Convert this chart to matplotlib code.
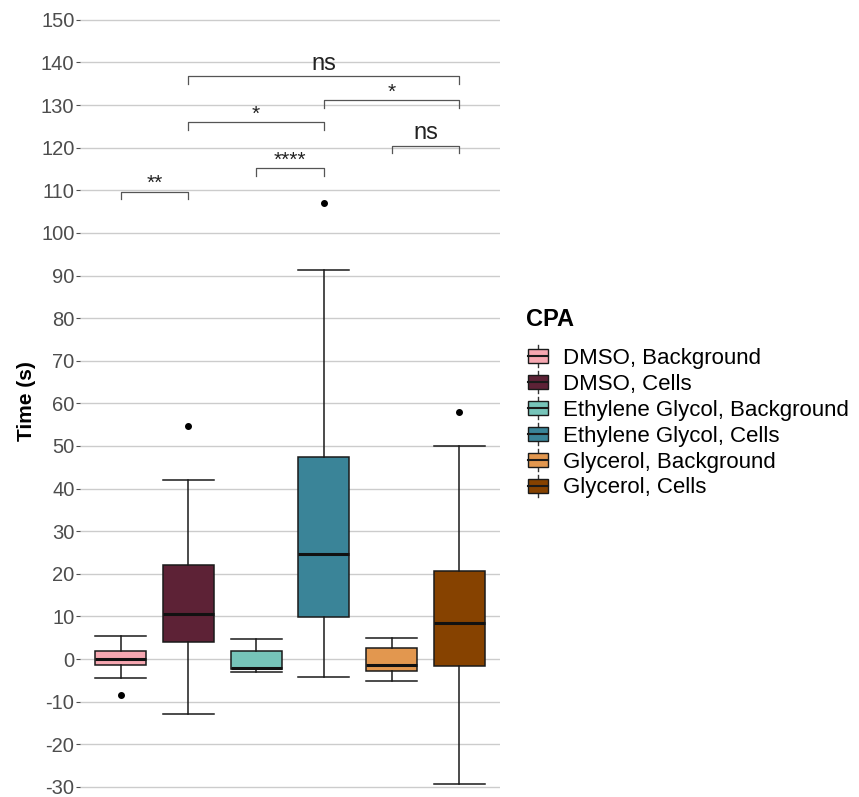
import matplotlib.pyplot as plt
from matplotlib.legend_handler import HandlerBase
from matplotlib.patches import Patch, Rectangle
from matplotlib.lines import Line2D

plt.rcParams["font.family"] = ["Liberation Sans", "DejaVu Sans"]

GROUPS = [
    "DMSO, Background",
    "DMSO, Cells",
    "Ethylene Glycol, Background",
    "Ethylene Glycol, Cells",
    "Glycerol, Background",
    "Glycerol, Cells",
]
COLORS = ["#F6A7B1", "#5D2236", "#76C4B9", "#3A8498", "#E2974F", "#864200"]

WHIS_LO = [-4.5, -12.8, -3.1, -4.1, -5.2, -29.3]
Q1 = [-1.4, 4.0, -2.3, 9.9, -2.9, -1.6]
MEDIAN = [0.0, 10.6, -2.0, 24.6, -1.4, 8.5]
Q3 = [1.9, 22.1, 1.9, 47.4, 2.5, 20.7]
WHIS_HI = [5.4, 42.1, 4.6, 91.4, 5.0, 50.0]
OUTLIERS = [[-8.4], [54.6], [], [107.0], [], [58.0]]

# significance brackets: (group a, group b, height, label)
BRACKETS = [
    (1, 2, 109.7, "**"),
    (3, 4, 115.2, "****"),
    (5, 6, 120.5, "ns"),
    (2, 4, 126.0, "*"),
    (4, 6, 131.2, "*"),
    (2, 6, 136.7, "ns"),
]

YTICKS = list(range(-30, 151, 10))


class BoxKeyHandler(HandlerBase):
    # sizes in points (legend boxes are laid out in points)
    def create_artists(self, legend, orig_handle, xdescent, ydescent,
                       width, height, fontsize, trans):
        cx = xdescent + width / 2
        bw = 14.4
        bh = 10
        x0 = cx - bw / 2
        cy = -ydescent + height / 2
        y0 = cy - bh / 2
        whisk = Line2D([cx, cx], [cy - 8, cy + 8],
                       color="#333333", lw=1.0, transform=trans)
        box = Rectangle((x0, y0), bw, bh, facecolor=orig_handle.get_facecolor(),
                        edgecolor="#1a1a1a", lw=1.0, transform=trans)
        med = Line2D([x0, x0 + bw], [cy, cy],
                     color="#1a1a1a", lw=1.5, transform=trans)
        return [whisk, box, med]


def main() -> None:
    fig = plt.figure(figsize=(8.59, 7.97), dpi=100)
    ax = fig.add_axes([80 / 859, 1 - 795.4 / 797, 420 / 859, 784.1 / 797])

    stats = []
    for i in range(len(GROUPS)):
        stats.append({
            "whislo": WHIS_LO[i], "q1": Q1[i], "med": MEDIAN[i],
            "q3": Q3[i], "whishi": WHIS_HI[i], "fliers": OUTLIERS[i],
        })

    positions = list(range(1, len(GROUPS) + 1))
    bp = ax.bxp(
        stats, positions=positions, widths=0.75, patch_artist=True,
        boxprops=dict(edgecolor="#1a1a1a", linewidth=1.1),
        medianprops=dict(color="#111111", linewidth=2.2),
        whiskerprops=dict(color="#1a1a1a", linewidth=1.1),
        capprops=dict(color="#1a1a1a", linewidth=1.1),
        flierprops=dict(marker="o", markerfacecolor="black",
                        markeredgecolor="black", markersize=4),
        capwidths=0.75,
    )
    for patch, c in zip(bp["boxes"], COLORS):
        patch.set_facecolor(c)

    tick_len = 1.8
    for a, b, y, label in BRACKETS:
        ax.plot([a, a, b, b], [y - tick_len, y, y, y - tick_len],
                color="#555555", lw=0.9, zorder=3)
        if label == "ns":
            ax.text((a + b) / 2, y + 1.6, label, ha="center", va="baseline",
                    fontsize=17, color="#222222")
        else:
            ax.text((a + b) / 2, y + 0.6, label, ha="center", va="baseline",
                    fontsize=15, color="#222222")

    ax.set_xlim(0.4, 6.6)
    ax.set_ylim(-32, 152)
    ax.set_yticks(YTICKS)
    ax.set_yticklabels([str(t) for t in YTICKS])
    ax.set_xticks([])
    ax.tick_params(axis="y", colors="#4d4d4d", labelsize=14.5, length=3,
                   width=0.8, pad=1)
    ax.grid(axis="y", color="#cccccc", lw=1.0)
    ax.set_axisbelow(True)
    for s in ax.spines.values():
        s.set_visible(False)

    ax.set_ylabel("Time (s)", fontsize=15, fontweight="bold")
    ax.yaxis.set_label_coords((36 - 80) / 420, (795.4 - 401) / 784.1)

    fig.text(526 / 859, 1 - 320 / 797, "CPA", fontsize=17, fontweight="bold",
             ha="left", va="center")
    handles = [Patch(facecolor=c) for c in COLORS]
    fig.legend(
        handles, GROUPS, loc="upper left",
        bbox_to_anchor=(508 / 859, 1 - 328 / 797),
        frameon=False, fontsize=16,
        handler_map={Patch: BoxKeyHandler()},
        handlelength=0.9, handleheight=0.7, handletextpad=0.68,
        labelspacing=0.22, borderpad=0.4,
    )

    fig.savefig("out.png", dpi=100)


if __name__ == "__main__":
    main()
